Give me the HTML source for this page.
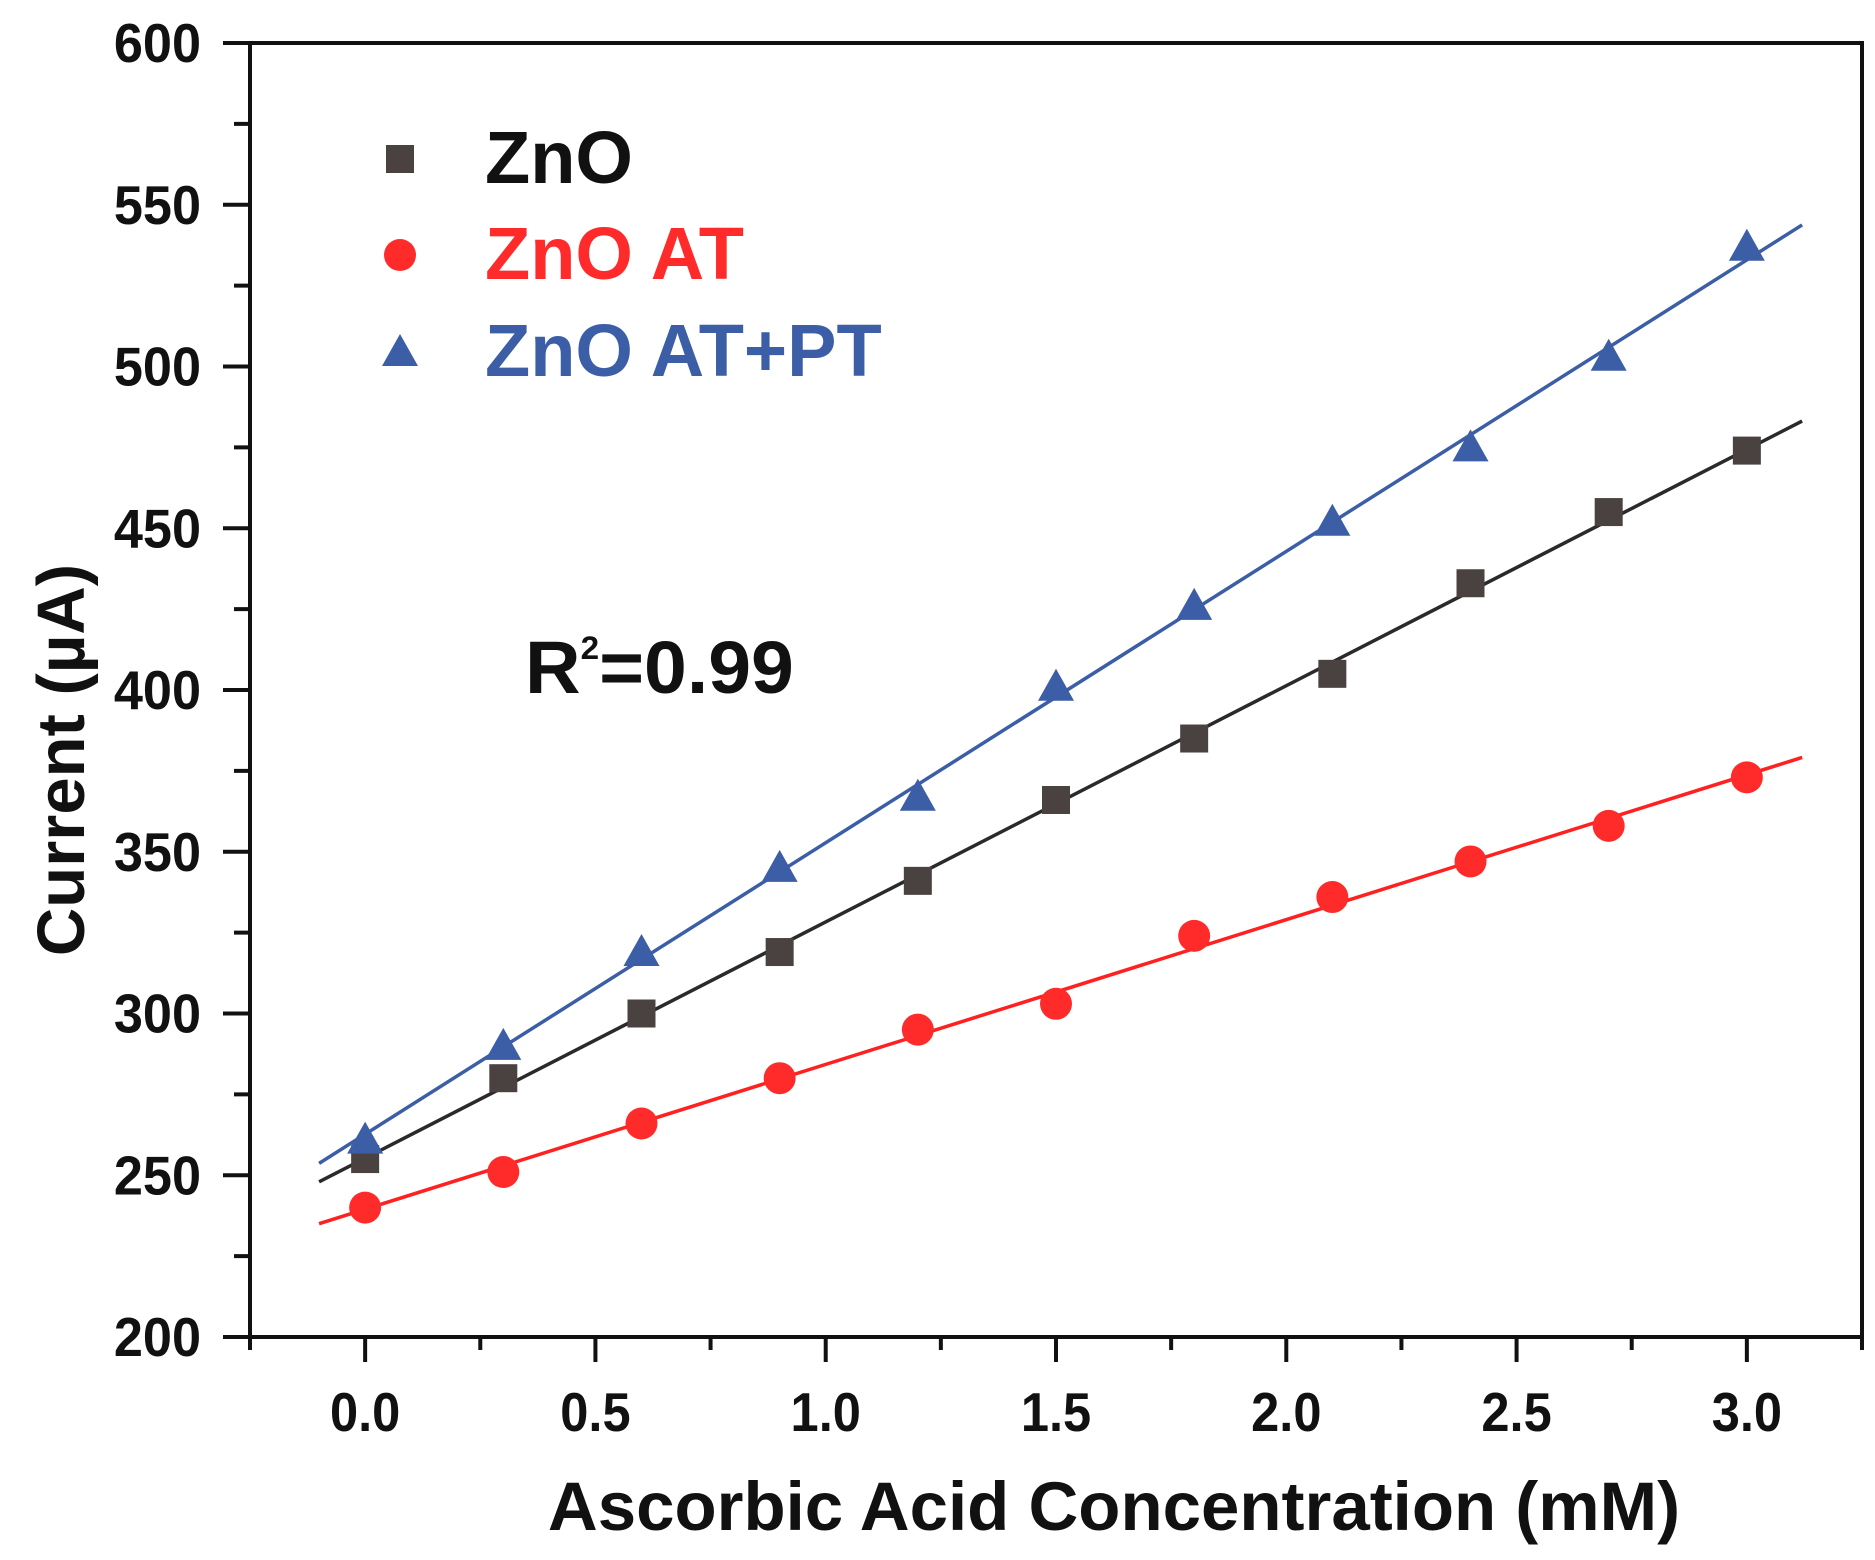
<!DOCTYPE html>
<html><head><meta charset="utf-8"><style>
html,body{margin:0;padding:0;background:#fff}
svg{display:block}
text{font-family:"Liberation Sans",Arial,sans-serif;font-weight:bold}
</style></head><body>
<svg id="chart" width="1875" height="1560" viewBox="0 0 1875 1560" xmlns="http://www.w3.org/2000/svg">
<g id="plot"></g>
</svg>
<script>
const xValues = [0,0.3,0.6,0.9,1.2,1.5,1.8,2.1,2.4,2.7,3.0];
const znoValues = [255,280,300,319,341,366,385,405,433,455,474];
const atValues = [240,251,266,280,295,303,324,336,347,358,373];
const ptValues = [261,290,319,345,367,401,426,452,475,503,537];
const xTickLabels = ["0.0","0.5","1.0","1.5","2.0","2.5","3.0"];
const yTickLabels = ["200","250","300","350","400","450","500","550","600"];

const NS="http://www.w3.org/2000/svg";
const L=250,R=1862,T=43,B=1337;
const xMin=-0.25,xMax=3.25,yMin=200,yMax=600;
const X=v=>L+(v-xMin)/(xMax-xMin)*(R-L);
const Y=v=>B-(v-yMin)/(yMax-yMin)*(B-T);
const g=document.getElementById('plot');
function mk(tag,attrs,parent){const e=document.createElementNS(NS,tag);for(const k in attrs)e.setAttribute(k,attrs[k]);(parent||g).appendChild(e);return e;}

const frame=mk('rect',{x:L,y:T,width:R-L,height:B-T,fill:'none',stroke:'#111','stroke-width':4});



for(let v=200;v<=600;v+=25){
  const major=(v%50===0);
  const t=mk('line',{x1:L-(major?27:16),x2:L,y1:Y(v),y2:Y(v),stroke:'#111','stroke-width':4});
  
  
}
yTickLabels.forEach(s=>{
  const t=mk('text',{transform:`translate(${L-49},${Y(+s)+19}) scale(0.95,1)`,'font-size':55,'text-anchor':'end',fill:'#111'});
  t.textContent=s;
  
  
});
for(let i=-1;i<=13;i++){
  const v=i*0.25; if(v<xMin-1e-9||v>xMax+1e-9)continue;
  const major=(i%2===0);
  const t=mk('line',{x1:X(v),x2:X(v),y1:B,y2:B+(major?25:13),stroke:'#111','stroke-width':4});
  
  
}
xTickLabels.forEach(s=>{
  const t=mk('text',{transform:`translate(${X(+s)},1431) scale(0.92,1)`,'font-size':55,'text-anchor':'middle',fill:'#111'});
  t.textContent=s;
  
  
});
const xt=mk('text',{x:1114,y:1530,'font-size':69,'text-anchor':'middle',fill:'#111'});
xt.textContent='Ascorbic Acid Concentration (mM)';


const yt=mk('text',{x:0,y:0,'font-size':67,'text-anchor':'middle',fill:'#111',transform:'translate(84,760) rotate(-90)'});
yt.textContent='Current (\u00b5A)';


const r2=mk('text',{transform:'translate(525,693) scale(1.04,1)','font-size':74,fill:'#111'});
r2.innerHTML='R<tspan font-size="32" dy="-34">2</tspan><tspan dy="34">=0.99</tspan>';



function fit(ys){const n=xValues.length;let sx=0,sy=0,sxy=0,sxx=0;for(let i=0;i<n;i++){sx+=xValues[i];sy+=ys[i];sxy+=xValues[i]*ys[i];sxx+=xValues[i]*xValues[i];}const m=(n*sxy-sx*sy)/(n*sxx-sx*sx);return [m,(sy-m*sx)/n];}
const series=[
 {vals:znoValues,color:'#4a4240',line:'#2a2a2a',shape:'square',name:'zno'},
 {vals:atValues,color:'#ff2b2b',line:'#ff2020',shape:'circle',name:'zno-at'},
 {vals:ptValues,color:'#3b5ea6',line:'#3b5ea6',shape:'triangle',name:'zno-at-pt'}
];
function marker(shape,cx,cy,color,parent){
  if(shape==='square') return mk('rect',{x:cx-14,y:cy-14,width:28,height:28,fill:color},parent);
  if(shape==='circle') return mk('ellipse',{cx:cx,cy:cy,rx:16,ry:16,fill:color},parent);
  return mk('polygon',{points:`${cx},${cy-18} ${cx+18},${cy+14} ${cx-18},${cy+14}`,fill:color},parent);
}
series.forEach(s=>{
  const [m,b]=fit(s.vals);
  const ln=mk('line',{x1:X(-0.1),y1:Y(m*-0.1+b),x2:X(3.12),y2:Y(m*3.12+b),stroke:s.line,'stroke-width':3.5});
  
  
});
series.forEach(s=>{
  s.vals.forEach((v,i)=>{
    const e=marker(s.shape,X(xValues[i]),Y(v),s.color);
    
    
  });
});
const legend=[['ZnO','#111',159],['ZnO AT','#ff2b2b',255],['ZnO AT+PT','#3b5ea6',352]];
legend.forEach((l,i)=>{
  const grp=mk('g',{});
  
  
  marker(series[i].shape,400,l[2],series[i].color,grp);
  const t=mk('text',{x:485,y:l[2]+24,'font-size':74,fill:l[1]},grp);
  t.textContent=l[0];
});
</script>
</body></html>
